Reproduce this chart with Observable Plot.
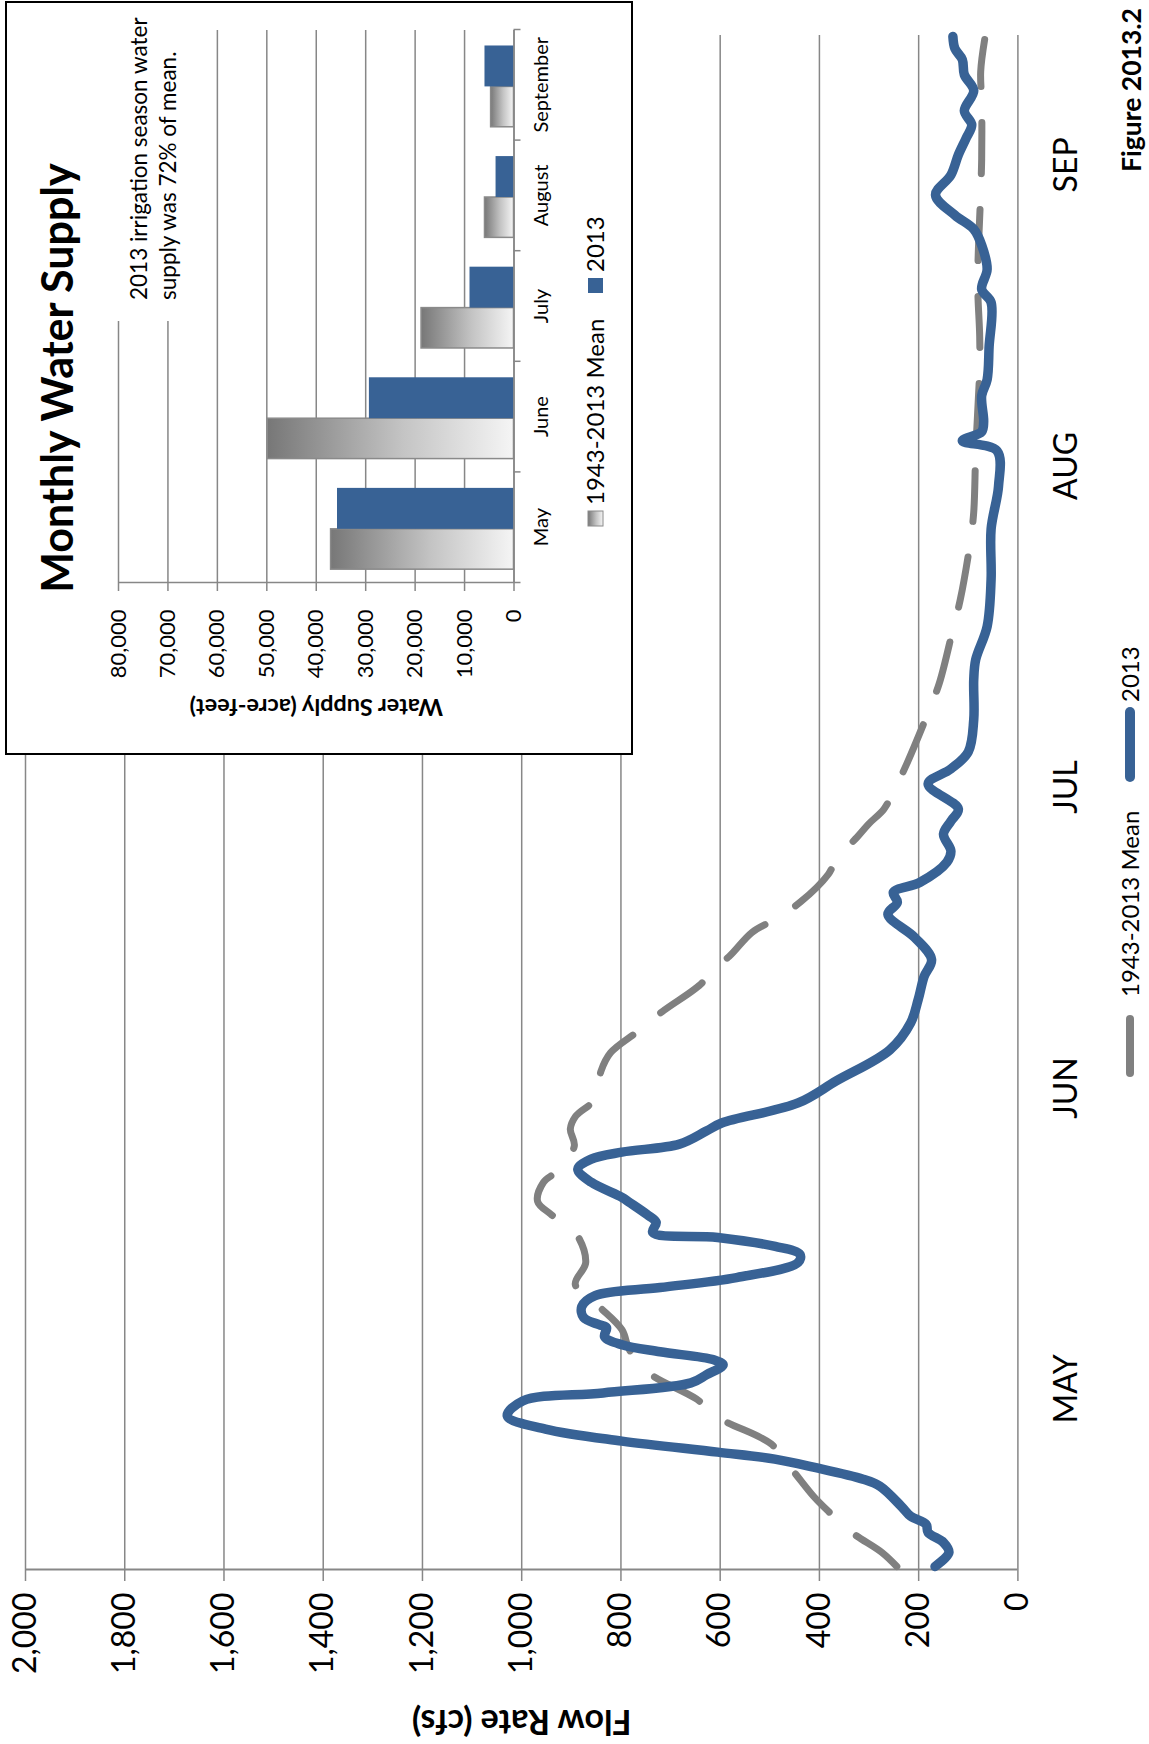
<!DOCTYPE html>
<html>
<head>
<meta charset="utf-8">
<script src="https://cdn.jsdelivr.net/npm/d3@7"></script>
<script src="https://cdn.jsdelivr.net/npm/@observablehq/plot@0.6"></script>
<style>
html, body { margin: 0; padding: 0; background: #fff; overflow: hidden; }
body { width: 1149px; height: 1744px; position: relative; }
#land {
  position: absolute; left: 0; top: 0; width: 1744px; height: 1149px;
  transform-origin: 0 0; transform: translate(0, 1744px) rotate(-90deg);
  font-family: Lato, sans-serif; background: #fff;
}
#land svg { position: absolute; left: 0; top: 0; overflow: visible; }
</style>
</head>
<body>
<div id="land"></div>
<script>
// ---------- Data: daily flow (day 0 = start of May) ----------
const days2013 = [0.3,1.7,2.7,3.7,4.5,5.3,6.3,8.3,9.0,10.2,11.0,11.7,12.8,14.0,15.3,16.8,17.6,18.6,19.4,20.4,20.9,21.7,22.4,23.2,24.1,24.4,25.1,26.2,27.3,28.1,29.1,30.6,31.4,32.2,33.1,33.6,34.6,35.4,36.6,37.1,38.6,39.9,40.9,41.6,42.4,43.7,44.5,46.5,48.7,51.8,54.5,56.8,59.1,60.8,63.0,65.3,66.5,67.5,68.5,70.5,71.6,73.3,74.6,75.8,78.3,79.8,81.5,84.7,88.7,90.7,94.0,98.7,103.7,108.0,111.5,112.5,113.4,114.4,117,118.6,121.9,126.3,127.6,129.6,132,133.6,135,137,139,141,142.7,144,145.4,147.4,149,150.5,151.6,152.8];
const flow2013 = [167,139,150,181,185,216,235,278,312,412,490,605,798,952,1029,998,836,659,628,594,613,721,798,833,829,844,875,879,852,721,567,443,439,489,605,736,729,748,783,798,860,887,860,798,682,628,597,443,366,258,216,201,189,174,208,262,243,251,197,143,135,150,135,120,181,135,100,89,89,85,62,54,54,39,42,112,73,69,73,62,58,54,73,62,73,89,127,166,135,120,104,93,108,89,108,112,127,131];

const daysMean = [0.3,1.7,3.7,5.8,7.3,9.7,12.5,15.0,17,19.6,21.9,23.9,26.2,28.4,30.6,33.6,35.4,36.7,38.6,39.7,42.2,43.9,45.2,46.9,49.7,51.5,53.6,55.6,58.5,59.3,61.1,63.5,64.8,66.5,69.3,70.8,73.0,74.3,75.8,77.5,80.3,85.4,88.4,93.7,96.7,102.4,105.4,111.4,119.8,122.9,128.3,137.3,140.6,146.3,149.3,152.5];
const flowMean = [244,274,335,382,412,451,497,598,648,744,783,798,844,892,871,892,941,968,956,929,894,902,891,852,840,821,767,717,636,628,582,536,490,439,382,366,324,301,270,251,224,181,158,131,116,96,89,85,77,77,81,75,73,73,75,67];

const flowTicks = [0,200,400,600,800,1000,1200,1400,1600,1800,2000];
const monthTickDays = [18,48,78,110,140];
const monthTickLabels = ["MAY","JUN","JUL","AUG","SEP"];

// ---------- Data: monthly water supply (acre-feet) ----------
const months = ["May","June","July","August","September"];
const supplyMean = [37000,49800,18700,5870,4630];
const supply2013 = [35700,29250,8900,3630,5870];
const supplyTicks = [0,10000,20000,30000,40000,50000,60000,70000,80000];

const BLUE = "#386295";
const GRAY = "#808080";
const GRID = "#878787";

const data2013 = days2013.map((d, i) => ({day: d, flow: flow2013[i]}));
const dataMean = daysMean.map((d, i) => ({day: d, flow: flowMean[i]}));
const monthLabelMap = new Map(monthTickDays.map((d, i) => [d, monthTickLabels[i]]));

const land = d3.select("#land");

// ---------- Main chart (drawn landscape, page rotated) ----------
const main = Plot.plot({
  width: 1744, height: 1149,
  marginLeft: 174, marginRight: 35, marginTop: 25, marginBottom: 131.6,
  style: {fontFamily: "Lato, sans-serif", background: "transparent", color: "#000"},
  x: {domain: [0, 153]},
  y: {domain: [0, 2000]},
  marks: [
    Plot.gridY({ticks: flowTicks, stroke: GRID, strokeOpacity: 1, strokeWidth: 1.5}),
    Plot.ruleX([0], {stroke: GRID, strokeWidth: 2}),
    Plot.axisY({ticks: flowTicks, tickSize: 11, tickPadding: 12, stroke: GRID, strokeOpacity: 1,
      strokeWidth: 1.5, fontSize: 32, fill: "#000", tickFormat: d3.format(","), label: null}),
    Plot.axisX({ticks: monthTickDays, tickSize: 0, tickPadding: 36, fontSize: 32, fill: "#000",
      tickFormat: d => monthLabelMap.get(d), label: null}),
    Plot.line(dataMean, {x: "day", y: "flow", stroke: GRAY, strokeWidth: 7,
      strokeDasharray: "51,36", strokeLinecap: "round", strokeLinejoin: "round", curve: "catmull-rom"}),
    Plot.line(data2013, {x: "day", y: "flow", stroke: BLUE, strokeWidth: 9.5,
      strokeLinecap: "round", strokeLinejoin: "round", curve: "catmull-rom"}),
    Plot.text(["Flow Rate (cfs)"], {frameAnchor: "left", dx: -151, rotate: -90, textAnchor: "middle",
      fontSize: 34, fontWeight: "bold", fill: "#000"})
  ]
});
land.node().append(main);

// main legend + figure number
const ov = land.append("svg").attr("width", 1744).attr("height", 1149);
ov.append("line").attr("x1", 671).attr("x2", 725).attr("y1", 1130).attr("y2", 1130)
  .attr("stroke", GRAY).attr("stroke-width", 8).attr("stroke-linecap", "round");
ov.append("text").attr("x", 747).attr("y", 1139).attr("font-size", 24).text("1943-2013 Mean");
ov.append("line").attr("x1", 967).attr("x2", 1032).attr("y1", 1130).attr("y2", 1130)
  .attr("stroke", BLUE).attr("stroke-width", 10).attr("stroke-linecap", "round");
ov.append("text").attr("x", 1042).attr("y", 1139).attr("font-size", 24).text("2013");
ov.append("text").attr("x", 1736).attr("y", 1141).attr("text-anchor", "end")
  .attr("font-size", 26.5).attr("font-weight", "bold").text("Figure 2013.2");

// ---------- Inset chart ----------
const box = land.append("div")
  .style("position", "absolute").style("left", "989px").style("top", "5px")
  .style("width", "754px").style("height", "628px").style("background", "#fff");

const barsMean = months.map((m, i) => ({i, v: supplyMean[i]}));
const bars2013 = months.map((m, i) => ({i, v: supply2013[i]}));

const inset = Plot.plot({
  width: 754, height: 628,
  marginLeft: 172, marginRight: 29, marginTop: 113, marginBottom: 119.5,
  style: {fontFamily: "Lato, sans-serif", background: "transparent", color: "#000"},
  x: {domain: [0, 5]},
  y: {domain: [0, 80000]},
  marks: [
    () => {
      const defs = d3.create("svg:defs");
      const g = defs.append("linearGradient").attr("id", "meanGrad")
        .attr("x1", 0).attr("y1", 0).attr("x2", 0).attr("y2", 1);
      g.append("stop").attr("offset", "0%").attr("stop-color", "#777777");
      g.append("stop").attr("offset", "55%").attr("stop-color", "#c4c4c4");
      g.append("stop").attr("offset", "100%").attr("stop-color", "#f5f5f5");
      return defs.node();
    },
    Plot.gridY({ticks: supplyTicks, stroke: GRID, strokeOpacity: 1, strokeWidth: 1.5}),
    Plot.rect(barsMean, {x1: d => d.i + 0.125, x2: d => d.i + 0.49, y1: 0, y2: "v",
      fill: "url(#meanGrad)", stroke: "#8a8a8a", strokeWidth: 1.5}),
    Plot.rect(bars2013, {x1: d => d.i + 0.49, x2: d => d.i + 0.86, y1: 0, y2: "v", fill: BLUE}),
    Plot.ruleY([0], {stroke: GRID, strokeWidth: 1.5}),
    Plot.ruleX([0], {stroke: GRID, strokeWidth: 1.5}),
    Plot.axisY({ticks: supplyTicks, tickSize: 8, tickPadding: 19, stroke: GRID, strokeOpacity: 1,
      strokeWidth: 1.5, fontSize: 22, fill: "#000", tickFormat: d3.format(","), label: null}),
    Plot.axisX({ticks: [0, 1, 2, 3, 4, 5], tickSize: 7, stroke: GRID, strokeOpacity: 1,
      strokeWidth: 1.5, tickFormat: () => "", label: null}),
    Plot.axisX({ticks: [0.5, 1.5, 2.5, 3.5, 4.5], tickSize: 0, tickPadding: 20, fontSize: 20,
      fill: "#000", tickFormat: d => months[Math.floor(d)], label: null}),
    Plot.text(["Water Supply (acre-feet)"], {frameAnchor: "left", dx: -124, rotate: -90,
      textAnchor: "middle", fontSize: 23.5, fontWeight: "bold", fill: "#000"})
  ]
});
box.node().append(inset);

const iov = box.append("svg").attr("width", 754).attr("height", 628);
iov.append("rect").attr("x", 1).attr("y", 1).attr("width", 752).attr("height", 626)
  .attr("fill", "none").attr("stroke", "#000").attr("stroke-width", 2);
iov.append("text").attr("x", 377).attr("y", 67.5).attr("text-anchor", "middle")
  .attr("font-size", 43).attr("font-weight", "bold").text("Monthly Water Supply");
iov.append("rect").attr("x", 434).attr("y", 106).attr("width", 300).attr("height", 80).attr("fill", "#fff");
iov.append("text").attr("x", 455).attr("y", 142).attr("font-size", 22.5).text("2013 irrigation season water");
iov.append("text").attr("x", 455).attr("y", 171).attr("font-size", 22.5).text("supply was 72% of mean.");
iov.append("rect").attr("x", 229).attr("y", 583).attr("width", 15).attr("height", 15)
  .attr("fill", "url(#meanGrad)").attr("stroke", "#8a8a8a").attr("stroke-width", 1);
iov.append("text").attr("x", 250).attr("y", 599).attr("font-size", 24).text("1943-2013 Mean");
iov.append("rect").attr("x", 462).attr("y", 583).attr("width", 15).attr("height", 15).attr("fill", BLUE);
iov.append("text").attr("x", 483).attr("y", 599).attr("font-size", 24).text("2013");
</script>
</body>
</html>
